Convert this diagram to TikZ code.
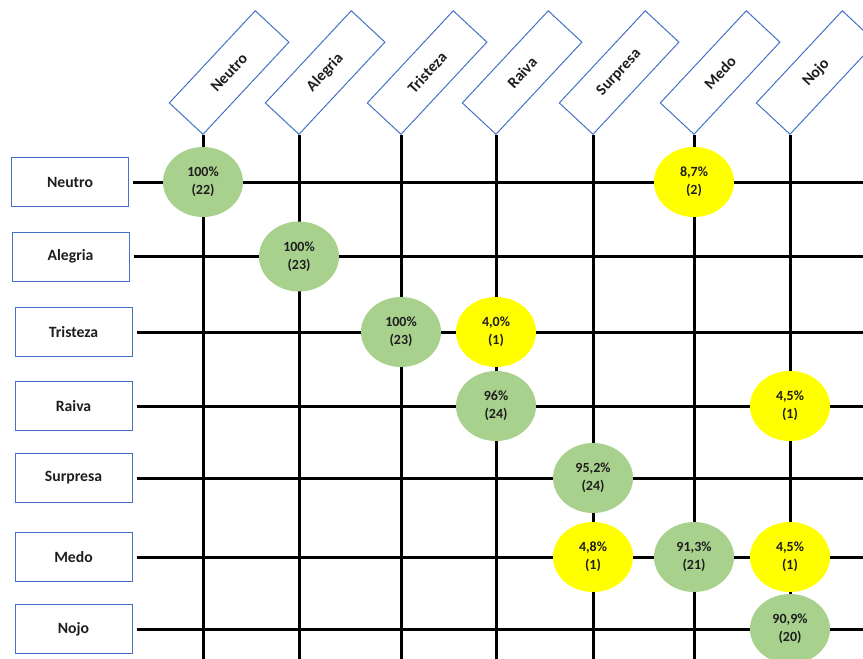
\documentclass[tikz,border=0pt]{standalone}
\usepackage{fontspec}
\setmainfont{Carlito}
\usetikzlibrary{shapes.geometric}
\definecolor{boxblue}{RGB}{68,114,196}
\definecolor{cellgreen}{RGB}{169,209,142}
\definecolor{cellyellow}{RGB}{255,255,0}
\definecolor{txt}{RGB}{30,30,30}
\begin{document}
\begin{tikzpicture}[x=1pt,y=-1pt,
  rowbox/.style={draw=boxblue,line width=1pt,minimum width=117pt,minimum height=49pt,inner sep=0pt,font=\fontsize{15.7}{18}\selectfont\bfseries,text=txt},
  colbox/.style={draw=boxblue,line width=1pt,minimum width=126pt,minimum height=46pt,inner sep=0pt,rotate=47,anchor=south west,font=\fontsize{15.7}{18}\selectfont\bfseries,text=txt},
  gridline/.style={line width=3pt,black},
  cell/.style={ellipse,minimum width=80pt,minimum height=70pt,inner sep=0pt,align=center,font=\fontsize{14}{18}\selectfont\bfseries,text=txt},
  hit/.style={cell,fill=cellgreen},
  miss/.style={cell,fill=cellyellow}]
\useasboundingbox (0,0) rectangle (863,659);
\clip (0,0) rectangle (863,659);
% column headers
\foreach \n/\x in {Neutro/203,Alegria/299,Tristeza/401,Raiva/496,Surpresa/593,Medo/694,Nojo/790}{
  \node[colbox] (c\n) at (\x,135) {\n};
  \coordinate (cb\n) at (\x,662);
  \draw[gridline] (c\n.south west) -- (cb\n);
}
% row labels
\foreach \n/\x/\y in {Neutro/70/182,Alegria/70.5/256.5,Tristeza/73.5/332,Raiva/73.5/406,Surpresa/73.5/478,Medo/73.5/557,Nojo/73.5/629}{
  \node[rowbox] (r\n) at (\x,\y) {\n};
  \coordinate (re\n) at (866,\y);
  \draw[gridline,shorten <=4pt] (r\n.east) -- (re\n);
}
% cells
\node[hit]  (nn) at (203,182) {100\%\\(22)};
\node[miss] (nm) at (694,182) {8,7\%\\(2)};
\node[hit]  (aa) at (299,256.5) {100\%\\(23)};
\node[hit]  (tt) at (401,332) {100\%\\(23)};
\node[miss] (tr) at (496,332) {4,0\%\\(1)};
\node[hit]  (rr) at (496,406) {96\%\\(24)};
\node[miss] (rn) at (790,406) {4,5\%\\(1)};
\node[hit]  (ss) at (593,478) {95,2\%\\(24)};
\node[miss] (ms) at (593,557) {4,8\%\\(1)};
\node[hit]  (mm) at (694,557) {91,3\%\\(21)};
\node[miss] (mn) at (790,557) {4,5\%\\(1)};
\node[hit]  (oo) at (790,629) {90,9\%\\(20)};
\end{tikzpicture}
\end{document}
